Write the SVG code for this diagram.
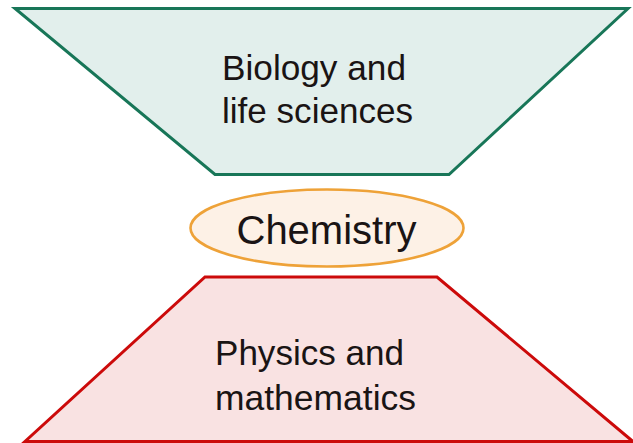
<svg xmlns="http://www.w3.org/2000/svg" width="633" height="443" viewBox="0 0 633 443">
<style>
.lbl{font-family:"Liberation Sans",Arial,Helvetica,sans-serif;fill:#1a1414;}
.s{font-size:35px;}
</style>
<rect width="633" height="443" fill="#ffffff"/>
<g id="biology">
<polygon points="15,8.5 628,8.5 449,174.5 215,174.5" fill="#e2efec" stroke="#187658" stroke-width="3" stroke-linejoin="miter"/>
<text class="lbl s" x="222" y="79.5" textLength="184" lengthAdjust="spacingAndGlyphs">Biology and</text>
<text class="lbl s" x="222" y="123" textLength="191" lengthAdjust="spacingAndGlyphs">life sciences</text>
</g>
<g id="chemistry">
<ellipse cx="327" cy="228" rx="136.5" ry="38.5" fill="#fdf1e6" stroke="#eea238" stroke-width="2.6"/>
<text class="lbl" x="236.5" y="243.5" font-size="40" textLength="180" lengthAdjust="spacingAndGlyphs">Chemistry</text>
</g>
<g id="physics">
<polygon points="205,277 437,277 633,441.5 25,441.5" fill="#f9e2e2" stroke="#cc0a0a" stroke-width="3"/>
<text class="lbl s" x="215" y="365" textLength="189" lengthAdjust="spacingAndGlyphs">Physics and</text>
<text class="lbl s" x="215" y="410" textLength="201" lengthAdjust="spacingAndGlyphs">mathematics</text>
</g>
<g id="connectors"></g>
</svg>
